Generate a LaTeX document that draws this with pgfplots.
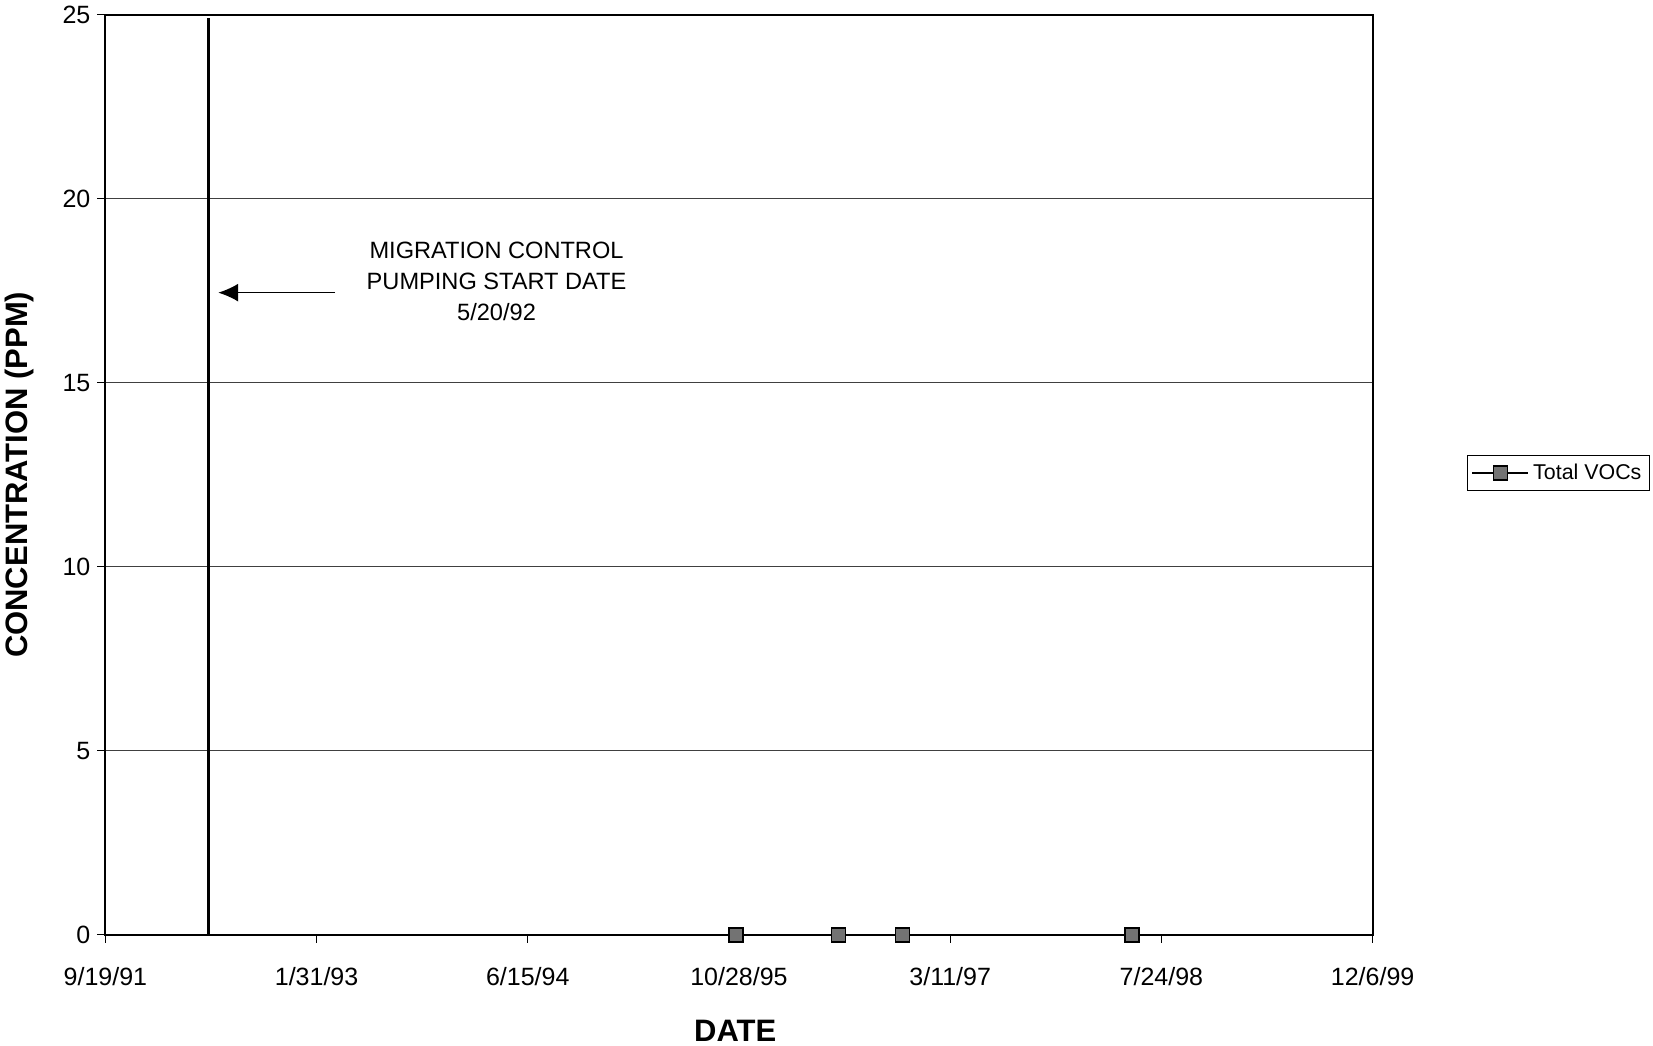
\documentclass[border=0pt]{standalone}
\usepackage{pgfplots}
\pgfplotsset{compat=1.18}
\usepackage{fontspec}
\setmainfont{Liberation Sans}
\usetikzlibrary{arrows.meta}
\begin{document}
\begin{tikzpicture}
\begin{axis}[
  at={(0,0)}, anchor=south west,
  scale only axis, width=633.6pt, height=460pt,
  xmin=0, xmax=3000, ymin=0, ymax=25,
  xtick={0,500,1000,1500,2000,2500,3000},
  xticklabels={9/19/91,1/31/93,6/15/94,10/28/95,3/11/97,7/24/98,12/6/99},
  ytick={0,5,10,15,20,25},
  xtick pos=bottom, ytick pos=left,
  ymajorgrids, grid style={black!75, line width=0.5pt},
  tick align=outside, major tick length=4pt,
  tick style={black, line width=0.6pt},
  axis line style={line width=0.9pt},
  tick label style={font=\fontsize{12.5}{14}\selectfont},
  /pgf/number format/assume math mode=true,
  xticklabel style={yshift=-9pt},
  xlabel={DATE}, ylabel={CONCENTRATION (PPM)},
  label style={font=\fontsize{15.5}{18}\selectfont\bfseries},
  xlabel style={at={(axis description cs:0.497,-0.1043)}, anchor=center},
  ylabel style={at={(axis description cs:-0.0679,0.5)}, anchor=center},
  legend style={at={(1.0745,0.502)}, anchor=west, draw=black, line width=0.6pt,
    font=\fontsize{10.7}{12}\selectfont, inner sep=2pt},
  legend image code/.code={\draw[mark repeat=2,mark phase=2,#1] plot coordinates {(0pt,0pt) (14pt,0pt) (28pt,0pt)};},
]
\addplot[black, line width=1.6pt, forget plot] coordinates {(244,0) (244,24.9)};
\addplot[black, line width=0.8pt, mark=square*, mark size=3.5pt,
  mark options={fill=black!55, draw=black, line width=0.8pt}]
  coordinates {(1493,0) (1736,0) (1887,0) (2431,0)};
\addlegendentry{Total VOCs}
\draw[-{Latex[length=10pt,width=9pt]}, line width=0.8pt] (axis cs:544,17.45) -- (axis cs:267,17.45);
\node[align=center, font=\fontsize{11.8}{15.5}\selectfont] at (axis cs:926,17.76)
  {MIGRATION CONTROL\\PUMPING START DATE\\5/20/92};
\end{axis}
\pgfresetboundingbox
\path (-52.7pt,-55.5pt) rectangle (773.8pt,467.4pt);
\end{tikzpicture}
\end{document}
